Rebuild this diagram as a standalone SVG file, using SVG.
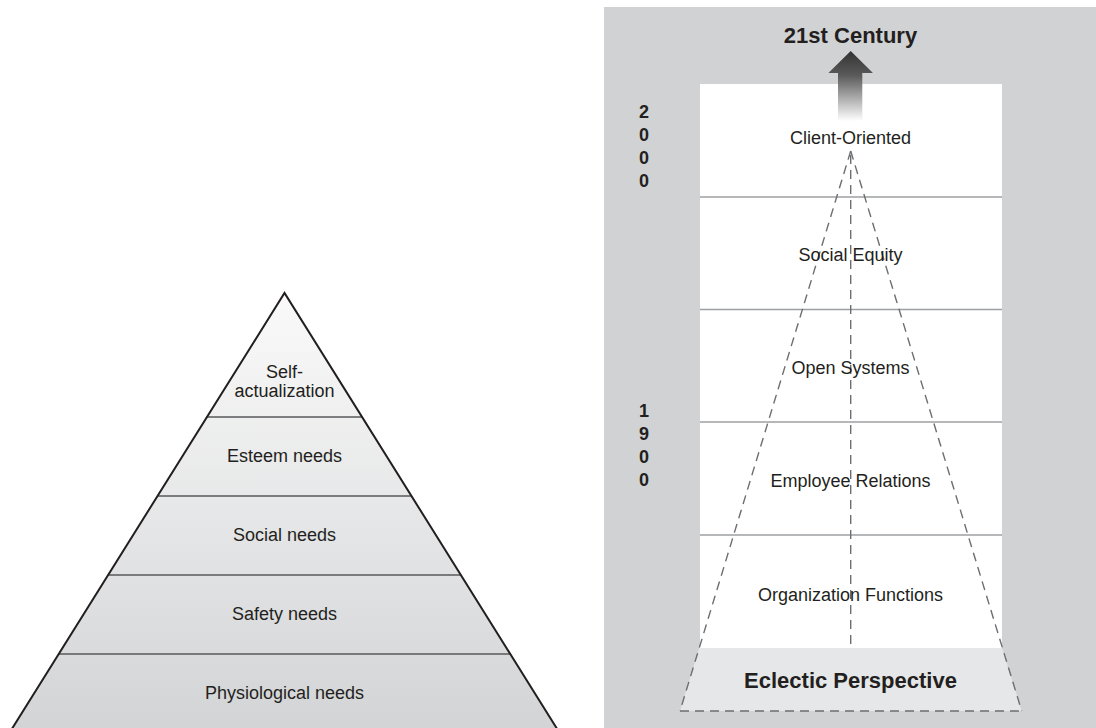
<svg xmlns="http://www.w3.org/2000/svg" width="1096" height="728" viewBox="0 0 1096 728">
  <style>
    .lbl { font-family: "Liberation Sans", Arial, sans-serif; font-size: 18px; fill: #231f20; text-anchor: middle; }
    .bold { font-family: "Liberation Sans", Arial, sans-serif; font-weight: bold; fill: #231f20; text-anchor: middle; }
    .year { font-size: 18px; }
    .head { font-size: 22px; }
    .tier { stroke: #58595b; stroke-width: 1.5; }
    .band { stroke: #9d9fa2; stroke-width: 1.3; }
    .dash { stroke: #6d6e71; stroke-width: 1.4; stroke-dasharray: 9 6; fill: none; }
  </style>
  <defs>
    <linearGradient id="pyrFill" x1="0" y1="293" x2="0" y2="728" gradientUnits="userSpaceOnUse">
      <stop offset="0" stop-color="#fafafa"/>
      <stop offset="1" stop-color="#d3d4d6"/>
    </linearGradient>
    <linearGradient id="arrowFill" x1="0" y1="51" x2="0" y2="121" gradientUnits="userSpaceOnUse">
      <stop offset="0" stop-color="#333333"/>
      <stop offset="0.35" stop-color="#5a5a5a"/>
      <stop offset="1" stop-color="#ffffff"/>
    </linearGradient>
  </defs>

  <rect width="1096" height="728" fill="#ffffff"/>

  <!-- Hierarchy of needs pyramid -->
  <g id="pyramid">
    <polygon points="284.5,293 11.2,730 557.8,730" fill="url(#pyrFill)"/>
    <line class="tier" x1="206.7" y1="417" x2="362.3" y2="417"/>
    <line class="tier" x1="157.3" y1="496" x2="411.7" y2="496"/>
    <line class="tier" x1="107.9" y1="575" x2="461.1" y2="575"/>
    <line class="tier" x1="58.5" y1="654" x2="510.5" y2="654"/>
    <polyline points="11.2,730 284.5,293 557.8,730" fill="none" stroke="#231f20" stroke-width="2" stroke-linejoin="miter"/>
  </g>
  <g id="self-actualization">
    <text class="lbl" x="284.5" y="378">Self-</text>
    <text class="lbl" x="284.5" y="397">actualization</text>
  </g>
  <g id="esteem-needs"><text class="lbl" x="284.5" y="462">Esteem needs</text></g>
  <g id="social-needs"><text class="lbl" x="284.5" y="541">Social needs</text></g>
  <g id="safety-needs"><text class="lbl" x="284.5" y="620">Safety needs</text></g>
  <g id="physiological-needs"><text class="lbl" x="284.5" y="699">Physiological needs</text></g>

  <!-- Evolution panel -->
  <rect x="604" y="7" width="492" height="721" fill="#d1d2d4"/>
  <rect x="700" y="84" width="302" height="564" fill="#ffffff"/>
  <polygon points="699.3,648 1002,648 1021.7,711 680,711" fill="#e6e7e8"/>
  <g id="band-dividers">
    <line class="band" x1="700" y1="197" x2="1002" y2="197"/>
    <line class="band" x1="700" y1="309.5" x2="1002" y2="309.5"/>
    <line class="band" x1="700" y1="422" x2="1002" y2="422"/>
    <line class="band" x1="700" y1="535" x2="1002" y2="535"/>
  </g>

  <g id="century-arrow">
    <polygon points="850.7,51 873,73 862.3,73 862.3,121 838,121 838,73 828.4,73" fill="url(#arrowFill)"/>
    <text class="bold head" x="850.5" y="43">21st Century</text>
  </g>

  <g id="year-2000">
    <text class="bold year" x="644" y="118">2</text>
    <text class="bold year" x="644" y="141">0</text>
    <text class="bold year" x="644" y="164">0</text>
    <text class="bold year" x="644" y="187">0</text>
  </g>
  <g id="year-1900">
    <text class="bold year" x="644" y="417">1</text>
    <text class="bold year" x="644" y="440">9</text>
    <text class="bold year" x="644" y="463">0</text>
    <text class="bold year" x="644" y="486">0</text>
  </g>

  <!-- Dashed cone -->
  <g id="connectors">
    <line class="dash" x1="850.7" y1="151" x2="680" y2="711"/>
    <line class="dash" x1="850.7" y1="151" x2="1021.7" y2="711"/>
    <line class="dash" x1="850.7" y1="155" x2="850.7" y2="648"/>
    <line class="dash" x1="680" y1="711" x2="1021.7" y2="711"/>
  </g>

  <g id="client-oriented"><text class="lbl" x="850.5" y="144">Client-Oriented</text></g>
  <g id="social-equity"><text class="lbl" x="850.5" y="261">Social Equity</text></g>
  <g id="open-systems"><text class="lbl" x="850.5" y="374">Open Systems</text></g>
  <g id="employee-relations"><text class="lbl" x="850.5" y="487">Employee Relations</text></g>
  <g id="organization-functions"><text class="lbl" x="850.5" y="601">Organization Functions</text></g>
  <g id="eclectic-perspective"><text class="bold head" x="850.5" y="688">Eclectic Perspective</text></g>
</svg>
